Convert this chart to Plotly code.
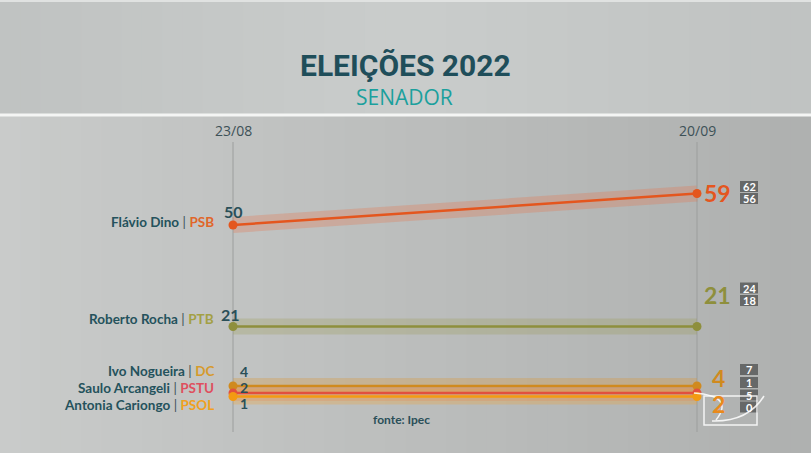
"""Eleições 2022 - Senador (Ipec) line chart."""
import plotly.graph_objects as go

W, H = 811, 453

DATES = ["23/08", "20/09"]
CANDIDATES = ["Flávio Dino", "Roberto Rocha", "Ivo Nogueira", "Saulo Arcangeli", "Antonia Cariongo"]
PARTIES = ["PSB", "PTB", "DC", "PSTU", "PSOL"]
VALUES_AUG = [50, 21, 4, 2, 1]
VALUES_SEP = [59, 21, 4, 2, 1]
UPPER_SEP = [62, 24, 7, 5]
LOWER_SEP = [56, 18, 1, 0]

LINE_COLORS = ["#E4561E", "#8E8F3C", "#D08A1E", "#E2503E", "#F39A12"]
BAND_COLORS = ["rgba(232,110,70,0.28)", "rgba(150,150,70,0.25)", "rgba(220,150,50,0.30)",
               "rgba(230,110,80,0.22)", "rgba(245,160,40,0.28)"]
PARTY_COLORS = ["#E0662A", "#A3A044", "#D69A2C", "#DF4F5E", "#F0A020"]
RIGHT_COLORS = ["#E4561E", "#8E8F3C", "#D08A1E", "#E98A1C"]
NAME_COLOR = "#24525C"


def px_x(x):
    return x / W


def px_y(y):
    return 1 - y / H


def label(text, x, y, size, color, family="Lato", xanchor="center"):
    return dict(text=text, x=px_x(x), y=px_y(y), xref="paper", yref="paper",
                xanchor=xanchor, yanchor="middle", showarrow=False,
                font=dict(family=family, size=size, color=color))


# axes calibrated so 23/08 -> x=233px, 20/09 -> x=697px, value 0 -> y=400px, 3.5px per point
x_scale = 697 - 233
x_range = [-233 / x_scale, 1 + (W - 697) / x_scale]
y_range = [-(H - 400) / 3.5, 400 / 3.5]

fig = go.Figure()

# bands then lines
for i in range(len(CANDIDATES)):
    fig.add_trace(go.Scatter(
        x=DATES, y=[VALUES_AUG[i], VALUES_SEP[i]], mode="lines",
        line=dict(color=BAND_COLORS[i], width=16), hoverinfo="skip", showlegend=False,
    ))
for i in range(len(CANDIDATES)):
    fig.add_trace(go.Scatter(
        x=DATES, y=[VALUES_AUG[i], VALUES_SEP[i]], mode="lines+markers",
        line=dict(color=LINE_COLORS[i], width=2.5),
        marker=dict(size=9, color=LINE_COLORS[i]),
        name=CANDIDATES[i], showlegend=False,
    ))

shapes = []
# background gradient strips
n = 40
for k in range(n):
    t = k / (n - 1)
    c_low = int(201 - 26 * t)
    c_top = int(202 - 10 * abs(t - 0.5) * 2)
    shapes.append(dict(type="rect", xref="paper", yref="paper", layer="below",
                       x0=k / n, x1=(k + 1) / n + 0.002, y0=0, y1=px_y(116),
                       fillcolor=f"rgb({c_low},{c_low + 2},{c_low + 1})", line=dict(width=0)))
    shapes.append(dict(type="rect", xref="paper", yref="paper", layer="below",
                       x0=k / n, x1=(k + 1) / n + 0.002, y0=px_y(116), y1=1,
                       fillcolor=f"rgb({c_top},{c_top + 3},{c_top + 2})", line=dict(width=0)))
# separator lines
shapes.append(dict(type="line", xref="paper", yref="paper", x0=0, x1=1, y0=px_y(115), y1=px_y(115),
                   line=dict(color="#F4F5F4", width=3), layer="below"))
shapes.append(dict(type="line", xref="paper", yref="paper", x0=0, x1=1, y0=px_y(1), y1=px_y(1),
                   line=dict(color="#E0E2E1", width=2), layer="below"))
# vertical guides
for d in DATES:
    shapes.append(dict(type="line", xref="x", yref="paper", x0=d, x1=d, y0=px_y(432), y1=px_y(142),
                       line=dict(color="#9C9E9D", width=1), layer="below"))

ann = []
ann.append(label("<b>ELEIÇÕES 2022</b>", 405, 66, 30, "#1F4E5A", family="Roboto"))
ann.append(label("SENADOR", 404, 97, 21, "#1BA09D", family="Open Sans"))
for d, dx in zip(DATES, (233, 697)):
    ann.append(label(d, dx, 131, 14, "#3D5157", family="Open Sans"))

# left names
name_y = [222, 319, 371, 388, 405]
for i in range(len(CANDIDATES)):
    ann.append(label(
        f"<b>{CANDIDATES[i]}</b> <span style='color:#3D5157'>|</span> "
        f"<span style='color:{PARTY_COLORS[i]}'><b>{PARTIES[i]}</b></span>",
        216, name_y[i], 13.5, NAME_COLOR, xanchor="right"))

# left values
ann.append(label(f"<b>{VALUES_AUG[0]}</b>", 233, 212, 16, "#2A4F58"))
ann.append(label(f"<b>{VALUES_AUG[1]}</b>", 231, 314, 16, "#2A4F58"))
small_pos = [(244, 371), (244, 387), (244, 403)]
for i, (lx, ly) in zip((2, 3, 4), small_pos):
    ann.append(label(f"<b>{VALUES_AUG[i]}</b>", lx, ly, 14, "#2A4F58"))

# right values
right_pos = [(717, 193), (717, 295), (718, 378), (718, 404)]
right_idx = [0, 1, 2, 3]
for (rx, ry), i, c in zip(right_pos, right_idx, RIGHT_COLORS):
    ann.append(label(f"<b>{VALUES_SEP[i]}</b>", rx, ry, 23, c))

# margin boxes
box_y = [(186.5, 198.5), (288, 300.5), (369.5, 382.5), (395, 407)]
for (uy, ly), up, lo in zip(box_y, UPPER_SEP, LOWER_SEP):
    for yy, v in ((uy, up), (ly, lo)):
        shapes.append(dict(type="rect", xref="paper", yref="paper", x0=px_x(740), x1=px_x(758),
                           y0=px_y(yy + 5.5), y1=px_y(yy - 5.5), fillcolor="#666868", line=dict(width=0)))
        ann.append(label(f"<b>{v}</b>", 749, yy, 11, "#FFFFFF"))

# watermark logo
shapes.append(dict(type="rect", xref="paper", yref="paper", x0=px_x(704), x1=px_x(757),
                   y0=px_y(425), y1=px_y(396), line=dict(color="rgba(255,255,255,0.85)", width=1.5)))
shapes.append(dict(type="path", xref="paper", yref="paper",
                   path=f"M {px_x(694)},{px_y(393)} Q {px_x(735)},{px_y(396)} {px_x(716)},{px_y(420)}",
                   line=dict(color="rgba(255,255,255,0.85)", width=1.5)))
shapes.append(dict(type="path", xref="paper", yref="paper",
                   path=f"M {px_x(712)},{px_y(421)} Q {px_x(748)},{px_y(422)} {px_x(764)},{px_y(396)}",
                   line=dict(color="rgba(255,255,255,0.85)", width=1.5)))

ann.append(label("<b>fonte: Ipec</b>", 401, 419, 12, "#2A4F58"))

fig.update_layout(
    width=W, height=H,
    margin=dict(l=0, r=0, t=0, b=0),
    paper_bgcolor="#C2C4C3",
    plot_bgcolor="rgba(0,0,0,0)",
    shapes=shapes,
    annotations=ann,
    showlegend=False,
)
fig.update_xaxes(type="category", range=x_range, visible=False, fixedrange=True)
fig.update_yaxes(range=y_range, visible=False, fixedrange=True)

fig.write_html("out.html", config={"displayModeBar": False},
               post_script="document.body.style.margin='0';")
